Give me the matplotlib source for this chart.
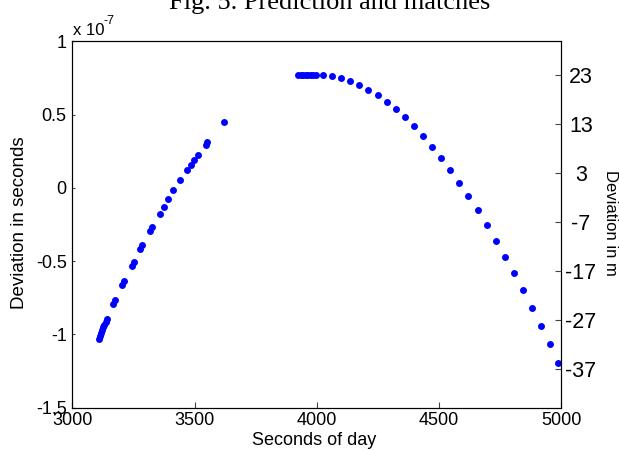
import matplotlib
matplotlib.use('Agg')
import matplotlib.pyplot as plt

plt.rcParams['font.family'] = ['Liberation Sans', 'DejaVu Sans']
plt.rcParams['axes.unicode_minus'] = False

C = 299792458.0  # m/s

# seconds of day / deviation in units of 1e-7 s
pass1_t = [3109, 3113, 3118, 3122, 3127, 3131, 3136, 3140,
           3168, 3176, 3205, 3213, 3243, 3251, 3278, 3286, 3317, 3325,
           3357, 3374, 3393, 3413, 3442, 3468, 3484, 3499, 3513,
           3545, 3551, 3620]
pass1_dev = [-1.030, -1.010, -0.990, -0.970, -0.950, -0.935, -0.915, -0.898,
             -0.794, -0.767, -0.664, -0.638, -0.534, -0.508, -0.414, -0.388, -0.295, -0.269,
             -0.176, -0.128, -0.078, -0.016, 0.054, 0.120, 0.154, 0.190, 0.222,
             0.292, 0.316, 0.452]

pass2_t = [3925, 3935, 3945, 3955, 3965, 3975, 3985, 3995,
           4024, 4063, 4099, 4136, 4174, 4211, 4249, 4286, 4323, 4361,
           4396, 4436, 4471, 4508, 4546, 4583, 4620, 4658, 4695, 4733,
           4770, 4808, 4843, 4881, 4918, 4954, 4988]
pass2_dev = [0.768, 0.769, 0.770, 0.770, 0.771, 0.771, 0.771, 0.772,
             0.772, 0.763, 0.750, 0.729, 0.702, 0.670, 0.632, 0.588, 0.538, 0.482,
             0.420, 0.352, 0.281, 0.204, 0.122, 0.036, -0.053, -0.151, -0.251, -0.360,
             -0.469, -0.581, -0.697, -0.822, -0.942, -1.067, -1.197]

left_ticks = [-1.5, -1, -0.5, 0, 0.5, 1]
left_labels = ['-1.5', '-1', '-0.5', '0', '0.5', '1']
right_ticks = [23, 13, 3, -7, -17, -27, -37]
x_ticks = [3000, 3500, 4000, 4500, 5000]

fig = plt.figure(figsize=(6.19, 4.5), dpi=100)
ax = fig.add_axes([0.1168, 0.094, 0.790, 0.8142])

ax.plot(pass1_t, pass1_dev, 'o', color='#0000ff', markersize=5, markeredgewidth=0)
ax.plot(pass2_t, pass2_dev, 'o', color='#0000ff', markersize=5, markeredgewidth=0)

ax.set_xlim(3000, 5000)
ax.set_ylim(-1.5, 1)
ax.set_xticks(x_ticks)
ax.set_xticklabels([str(v) for v in x_ticks])
ax.set_yticks(left_ticks)
ax.set_yticklabels(left_labels)
ax.tick_params(axis='x', direction='in', length=4, width=0.8, pad=3.3,
               labelsize=13, color='#444444', top=False)
ax.tick_params(axis='y', direction='in', length=2.5, width=0.8, pad=4,
               labelsize=13, color='#444444', right=False)
for s in ax.spines.values():
    s.set_linewidth(0.8)

# MATLAB style exponent label
ax.text(0.001, 1.017, 'x 10', transform=ax.transAxes, fontsize=12,
        ha='left', va='baseline')
ax.text(0.064, 1.047, '-7', transform=ax.transAxes, fontsize=9,
        ha='left', va='baseline')

ax.set_xlabel('Seconds of day', fontsize=13, va='baseline')
ax.xaxis.set_label_coords(0.495, -0.1018)
ax.set_ylabel('Deviation in seconds', fontsize=13.5, va='center')
ax.yaxis.set_label_coords(-0.108, 0.504)

ax2 = ax.twinx()
ax2.set_ylim(-1.5e-7 * C, 1e-7 * C)
ax2.set_yticks(right_ticks)
ax2.set_yticklabels([str(v) for v in right_ticks])
ax2.tick_params(axis='y', direction='in', length=4.3, width=0.8, pad=14.2,
                labelsize=15.5, color='#444444')
for lab in ax2.get_yticklabels():
    lab.set_horizontalalignment('center')
for s in ax2.spines.values():
    s.set_linewidth(0.8)
ax2.set_ylabel('Deviation in m', fontsize=12, rotation=270, va='center')
ax2.yaxis.set_label_coords(1.101, 0.505)

fig.text(0.533, 0.979, 'Fig. 5. Prediction and matches', family='Liberation Serif',
         fontsize=19, ha='center', va='baseline')

fig.savefig('out.png', dpi=100)
